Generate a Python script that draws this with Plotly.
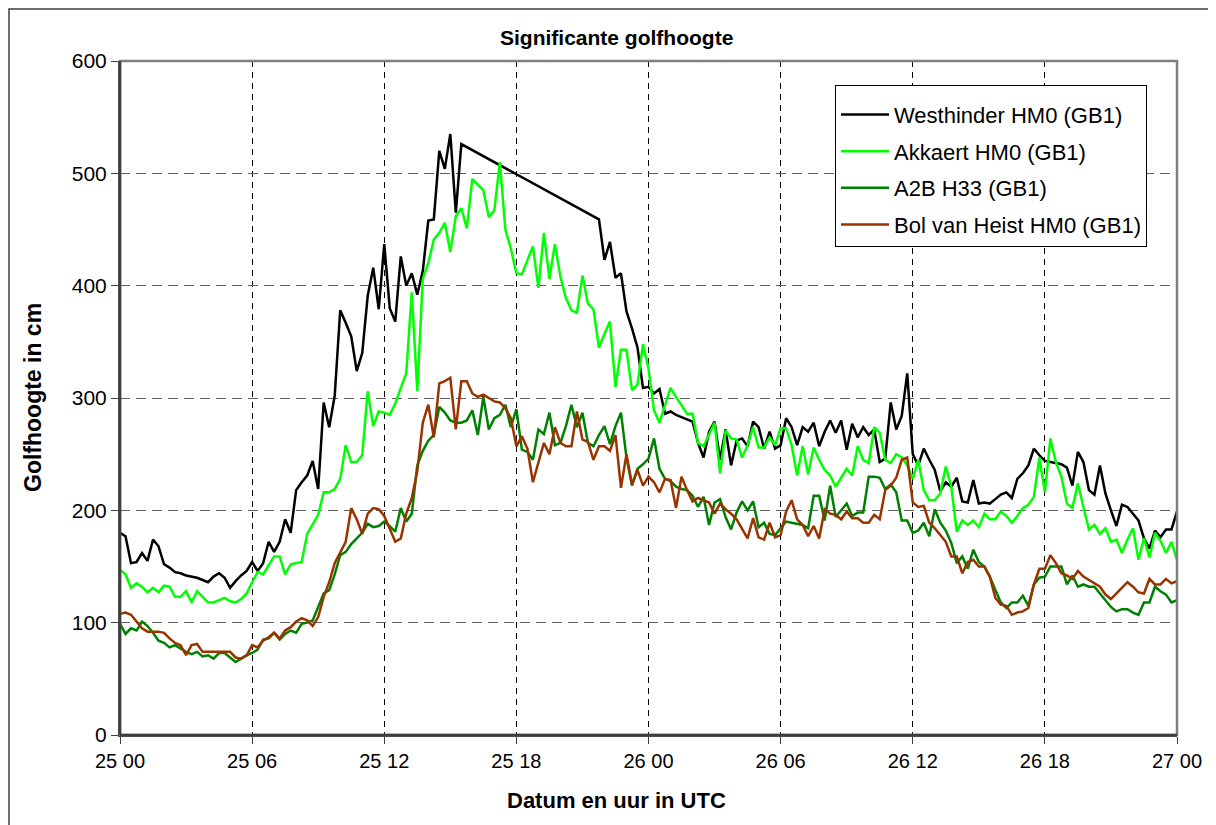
import plotly.graph_objects as go

# Time axis: hours since 25 00 UTC, 15-minute sampling (193 samples)
hours = [i * 0.25 for i in range(193)]

tick_hours = [0, 6, 12, 18, 24, 30, 36, 42, 48]
tick_labels = ["25 00", "25 06", "25 12", "25 18", "26 00", "26 06", "26 12", "26 18", "27 00"]

westhinder = [
    180, 177, 153, 154, 162, 155, 174, 168, 152, 149,
    145, 144, 142, 141, 140, 138, 136, 141, 144, 140,
    131, 137, 142, 146, 154, 146, 153, 172, 163, 172,
    192, 180, 218, 225, 231, 244, 219, 296, 274, 302,
    378, 367, 355, 324, 340, 391, 416, 379, 437,
    380, 368, 426, 400, 411, 392, 413, 458, 459, 520, 504, 535, 465, 526,
    None, None, None, None, None, None, None, None, None, None, None, None,
    None, None, None, None, None, None, None, None, None, None, None, None,
    459, 423, 439, 407, 411, 377, 362, 345, 309, 310,
    304, 308, 286, 288, 285, 283, 281, 279, 260, 247,
    270, 279, 245, 272, 240, 262, 264, 257, 279, 274,
    255, 270, 255, 258, 282, 274, 258, 274, 270, 278,
    257, 270, 280, 269, 280, 254, 277, 265, 274, 267,
    272, 243, 246, 296, 272, 284, 322, 250,
    240, 255, 245, 236, 217, 225, 221, 229, 208, 207,
    227, 206, 207, 206, 210, 214, 216, 211, 228, 233,
    240, 255, 249, 244, 243, 242, 241, 238, 222, 252,
    243, 218, 214, 240, 215, 200, 186, 205, 203, 197,
    191, 175, 166, 182, 176, 183, 183, 199,
]

akkaert = [
    147, 143, 131, 135, 132, 127, 131, 127, 133, 132,
    123, 123, 128, 118, 128, 123, 118, 118, 120, 122,
    119, 118, 121, 126, 136, 145, 143, 151, 159, 159,
    143, 152, 153, 154, 179, 187, 196, 216, 216, 219,
    228, 258, 243, 243, 249, 306, 275, 288, 287,
    285, 295, 309, 322, 394, 306, 406, 420, 441, 447,
    456, 430, 462, 469, 451, 495, 490, 485, 461, 467,
    510, 450, 433, 411, 410, 422, 435, 398, 447, 406,
    437, 408, 389, 378, 376, 409, 384, 379, 345, 357,
    368, 310, 343, 343, 307, 312, 348, 326,
    289, 278, 294, 309, 301, 294, 286, 286, 260, 257,
    267, 278, 233, 271, 264, 263, 247, 258, 274, 256,
    256, 265, 258, 273, 273, 258, 231, 257, 232, 256,
    245, 236, 231, 221, 229, 237, 231, 257, 245, 242,
    274, 269, 245, 242, 250, 247, 240, 228,
    245, 218, 209, 209, 215, 239, 221, 181, 191, 187,
    191, 185, 197, 192, 192, 199, 195, 189, 195, 202,
    205, 212, 247, 216, 264, 243, 230, 206, 202, 224,
    203, 183, 187, 179, 184, 172, 174, 162, 174, 184,
    156, 175, 158, 180, 173, 162, 172, 156,
]

a2b = [
    99, 90, 95, 93, 101, 97, 91, 84, 82, 78,
    80, 77, 74, 72, 74, 70, 71, 68, 73, 73,
    69, 65, 68, 71, 73, 76, 85, 86, 91, 85,
    90, 93, 91, 99, 100, 102, 114, 126, 129, 143,
    160, 163, 170, 175, 180, 188, 185, 186, 190,
    186, 181, 202, 190, 197, 240, 253, 262, 267, 292,
    287, 280, 278, 278, 280, 289, 267, 301, 272, 282,
    285, 294, 274, 290, 254, 252, 245, 272, 268, 287,
    258, 260, 275, 294, 274, 287, 260, 257, 267, 275,
    259, 275, 287, 247, 222, 237, 241, 246,
    264, 237, 228, 226, 221, 219, 218, 213, 203, 212,
    187, 207, 210, 194, 183, 198, 208, 200, 208, 185,
    189, 179, 178, 184, 190, 189, 188, 187, 184, 213,
    213, 191, 222, 194, 200, 206, 195, 198, 198, 230,
    230, 229, 219, 223, 216, 191, 191, 180,
    182, 189, 177, 201, 189, 182, 171, 153, 159, 148,
    165, 154, 150, 141, 129, 118, 113, 118, 118, 124,
    115, 134, 140, 141, 150, 150, 150, 134, 142, 132,
    134, 132, 132, 126, 120, 114, 110, 112, 112, 109,
    107, 118, 118, 132, 128, 125, 118, 120,
]

bol_van_heist = [
    108, 109, 107, 101, 95, 92, 92, 92, 91, 86,
    82, 80, 71, 80, 81, 74, 74, 74, 74, 74,
    74, 69, 68, 71, 80, 78, 84, 87, 91, 86,
    93, 96, 101, 104, 102, 97, 105, 123, 136, 153,
    163, 172, 202, 192, 179, 197, 202, 201, 195,
    184, 172, 175, 197, 211, 235, 278, 294, 265, 313,
    315, 318, 272, 315, 315, 304, 301, 303, 300, 297,
    296, 291, 282, 257, 266, 255, 225, 242, 260, 250,
    274, 260, 257, 257, 288, 263, 261, 245, 257, 257,
    253, 267, 220, 250, 223, 236, 222, 230,
    225, 216, 228, 227, 202, 230, 218, 208, 211, 209,
    207, 197, 206, 201, 197, 192, 184, 175, 193, 176,
    174, 189, 176, 178, 199, 209, 192, 187, 177, 186,
    175, 201, 197, 196, 192, 199, 193, 193, 189, 189,
    196, 192, 218, 222, 229, 245, 247, 207,
    203, 204, 189, 184, 178, 172, 159, 159, 144, 154,
    156, 150, 150, 141, 122, 116, 115, 107, 109, 110,
    113, 134, 148, 148, 160, 153, 144, 142, 139, 146,
    141, 138, 135, 132, 125, 121, 126, 131, 136, 132,
    127, 126, 139, 134, 134, 139, 135, 137,
]

series = [
    ("Westhinder HM0 (GB1)", westhinder, "#000000"),
    ("Akkaert HM0 (GB1)", akkaert, "#00FF00"),
    ("A2B H33 (GB1)", a2b, "#008000"),
    ("Bol van Heist HM0 (GB1)", bol_van_heist, "#993300"),
]

FONT = "Liberation Sans, Arial, sans-serif"

fig = go.Figure()
for k, (name, vals, col) in enumerate(series):
    fig.add_trace(go.Scatter(
        x=hours, y=vals, name=name, mode="lines",
        line=dict(color=col, width=2.5),
        connectgaps=True, legendgroup=f"g{k}",
    ))

# the page body adds an 8px margin: work in page coordinates, shift by OFF
OFF = 8
W, H = 1216 - OFF, 825 - OFF
L, R, T, B = 120 - OFF, 1177 - OFF, 61 - OFF, 735 - OFF
pw, ph = R - L, B - T

def px(x):
    return (x - OFF - L) / pw

def py(y):
    return (B - (y - OFF)) / ph

fig.update_layout(
    width=W, height=H,
    margin=dict(l=L, r=W - R, t=T, b=H - B, autoexpand=False),
    paper_bgcolor="white", plot_bgcolor="white",
    font=dict(family=FONT, color="black"),
    showlegend=True,
    legend=dict(
        x=px(835), y=py(85), xanchor="left", yanchor="top",
        bgcolor="white", bordercolor="black", borderwidth=1,
        font=dict(size=22, family=FONT), tracegroupgap=5,
        itemwidth=48,
        title=dict(text=" ", font=dict(size=6)),
    ),
    xaxis=dict(
        range=[0, 48], tickvals=tick_hours, ticktext=tick_labels,
        showgrid=True, gridcolor="black", gridwidth=1, griddash="6px,5px",
        showline=True, linecolor="#404040", linewidth=2,
        ticks="outside", ticklen=7, tickcolor="#404040",
        tickfont=dict(size=20, family=FONT), zeroline=False,
    ),
    yaxis=dict(
        range=[0, 600], dtick=100,
        showgrid=True, gridcolor="#606060", gridwidth=1, griddash="10px,6px",
        showline=True, linecolor="#404040", linewidth=2,
        ticks="outside", ticklen=7, tickcolor="#404040",
        tickfont=dict(size=21, family=FONT), zeroline=False,
    ),
    shapes=[
        dict(type="rect", xref="paper", yref="paper", x0=0, x1=1, y0=0, y1=1,
             line=dict(color="#808080", width=2.5), layer="above"),
        dict(type="line", xref="paper", yref="paper", x0=0, x1=0, y0=0, y1=1,
             line=dict(color="#404040", width=2.5), layer="above"),
        dict(type="line", xref="paper", yref="paper", x0=0, x1=1, y0=0, y1=0,
             line=dict(color="#404040", width=2.5), layer="above"),
        dict(type="rect", xref="paper", yref="paper",
             x0=px(9), x1=px(1240), y0=py(840), y1=py(9),
             line=dict(color="#404040", width=1.5), layer="below"),
    ],
    annotations=[
        dict(text="<b>Significante golfhoogte</b>", xref="paper", yref="paper",
             x=px(616), y=py(37), xanchor="center", yanchor="middle",
             showarrow=False, font=dict(size=21, family=FONT)),
        dict(text="<b>Golfhoogte in cm</b>", xref="paper", yref="paper",
             x=px(33), y=0.5, xanchor="center", yanchor="middle", textangle=-90,
             showarrow=False, font=dict(size=23, family=FONT)),
        dict(text="<b>Datum en uur in UTC</b>", xref="paper", yref="paper",
             x=px(616), y=py(800), xanchor="center", yanchor="middle",
             showarrow=False, font=dict(size=22, family=FONT)),
    ],
)

fig.write_html("out.html")
